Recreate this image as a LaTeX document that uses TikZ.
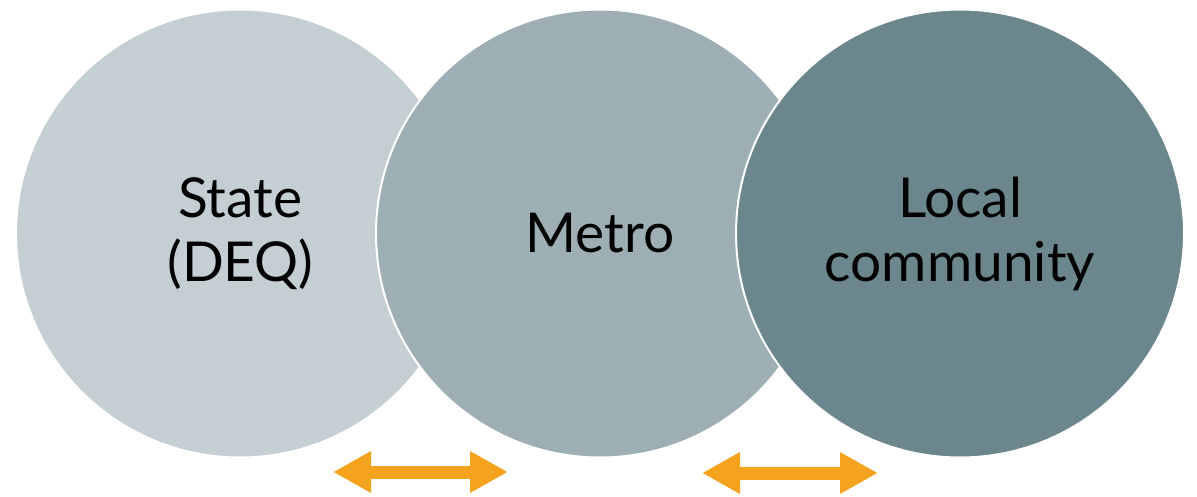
\documentclass[tikz,border=0pt]{standalone}
\usepackage{fontspec}
\setmainfont{Lato}
\usetikzlibrary{positioning,arrows.meta}

\definecolor{stategray}{HTML}{C4CFD3}
\definecolor{metrogray}{HTML}{9DAFB4}
\definecolor{localgray}{HTML}{6B878D}
\definecolor{linkorange}{HTML}{F5A21E}

\begin{document}
\begin{tikzpicture}[
    x=1pt, y=1pt,
    node distance=-88pt,
    level/.style={circle, draw=white, line width=2pt, minimum size=448pt, inner sep=0pt, outer sep=0pt, text=black, align=center, font=\fontsize{55}{64}\selectfont},
    link/.style={draw=linkorange, line width=13pt, line cap=butt, arrows={Triangle[length=38pt,width=39pt]-Triangle[length=38pt,width=39pt]}}
]

\useasboundingbox (0,0) rectangle (1197,-496);

% Levels (left to right, each one overlapping the previous)
\node[level, fill=stategray] (state) at (240,-233.5) {State\\(DEQ)};
\node[level, fill=metrogray, right=of state] (metro) {Metro};
\node[level, fill=localgray, right=of metro] (local) {Local\\community};

% Ends of the two-way links
\coordinate (sm west) at (333,-472);
\coordinate (sm east) at (508,-472);
\coordinate (ml west) at (702,-473);
\coordinate (ml east) at (878,-473);

% Two-way links
\draw[link] (sm west) -- (sm east);
\draw[link] (ml west) -- (ml east);

\end{tikzpicture}
\end{document}
